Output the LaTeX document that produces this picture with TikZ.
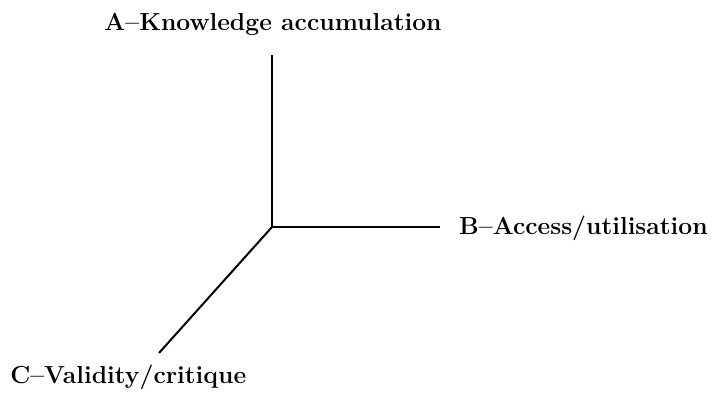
\documentclass[tikz,border=0pt]{standalone}
\usepackage{tikz}

\begin{document}
\begin{tikzpicture}
                [x=0.75pt, y=-0.75pt,
                    axis/.style={line width=1.5pt, line cap=butt},
                ]
                \tikzstyle{every node}=[font=\fontsize{18.5}{22}\selectfont\bfseries, inner sep=0pt, text=black]
                \useasboundingbox (0,0) rectangle (712,392);
                \coordinate (origin) at (272,227);
                \coordinate (topend) at (272,55);
                \coordinate (rightend) at (440,227);
                \coordinate (leftend) at (159,353);
                \node[anchor=base] (know) at (273,31) {A--Knowledge accumulation};
                \node[anchor=base east] (access) at (708,234) {B--Access/utilisation};
                \node[anchor=base west] (valid) at (10,383) {C--Validity/critique};
                \draw[axis] (topend) -- (origin) -- (rightend);
                \draw[axis] (origin) -- (leftend);
            \end{tikzpicture}
\end{document}
